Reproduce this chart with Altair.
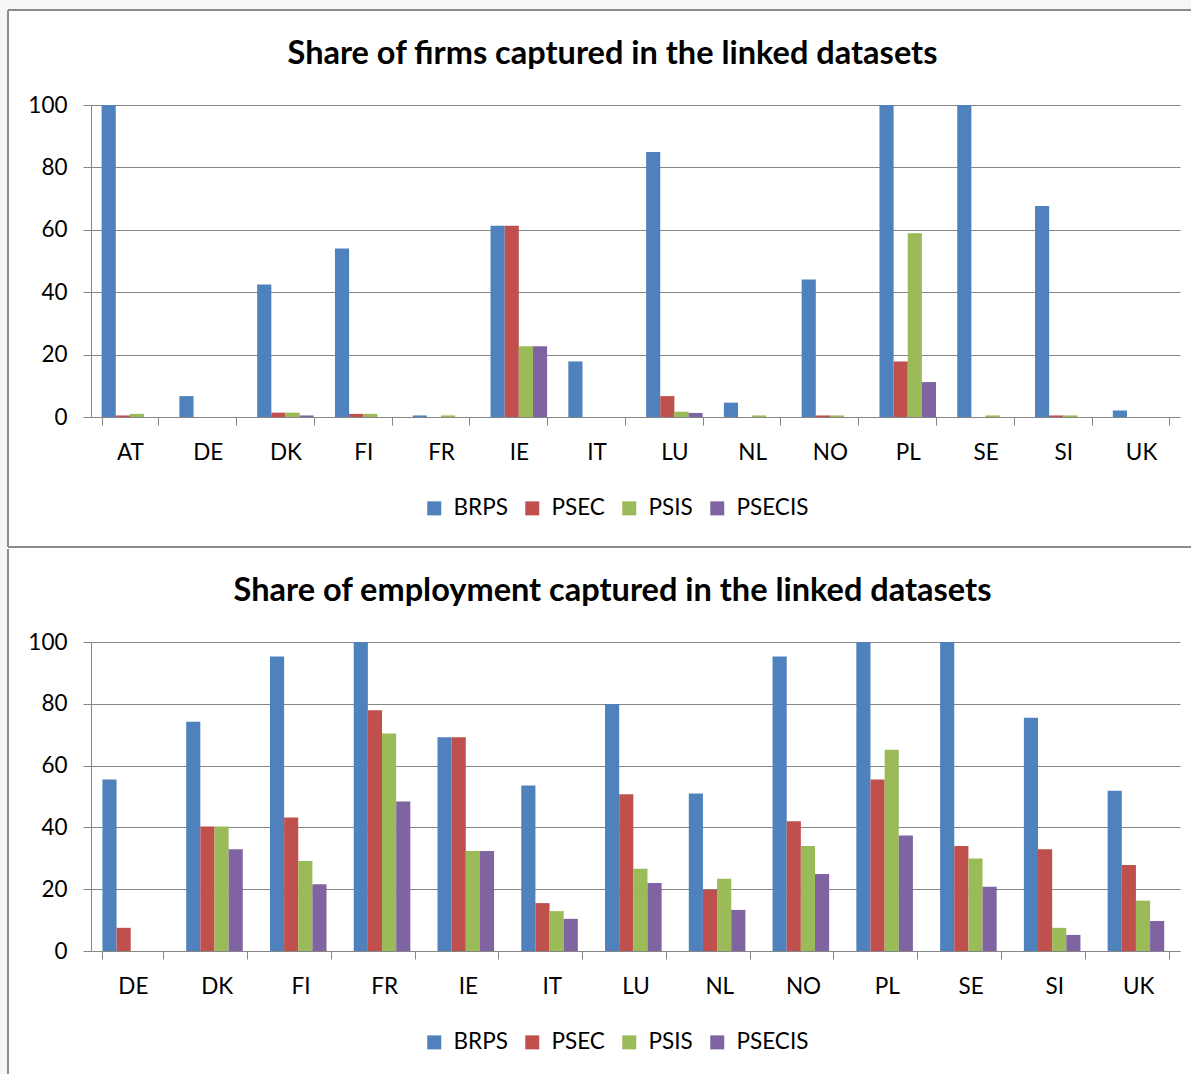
import altair as alt
import pandas as pd

# Series names and colours
series = ["BRPS", "PSEC", "PSIS", "PSECIS"]
colors = ["#4F81BD", "#C0504D", "#9BBB59", "#8064A2"]

# Share of firms (%)
countries_firms = ["AT", "DE", "DK", "FI", "FR", "IE", "IT", "LU", "NL", "NO", "PL", "SE", "SI", "UK"]
firms_brps = [100, 6.7, 42.5, 54.0, 0.5, 61.3, 17.8, 84.9, 4.6, 44.1, 100, 100, 67.6, 2.1]
firms_psec = [0.5, 0, 1.4, 1.0, 0, 61.3, 0, 6.7, 0, 0.5, 17.8, 0, 0.5, 0]
firms_psis = [1.0, 0, 1.4, 1.0, 0.5, 22.7, 0, 1.7, 0.5, 0.5, 58.9, 0.5, 0.5, 0]
firms_psecis = [0, 0, 0.5, 0, 0, 22.7, 0, 1.3, 0, 0, 11.2, 0, 0, 0]

# Share of employment (%)
countries_emp = ["DE", "DK", "FI", "FR", "IE", "IT", "LU", "NL", "NO", "PL", "SE", "SI", "UK"]
emp_brps = [55.5, 74.2, 95.3, 100, 69.2, 53.6, 79.9, 51.0, 95.3, 100, 100, 75.5, 51.9]
emp_psec = [7.5, 40.3, 43.2, 77.9, 69.2, 15.5, 50.7, 19.8, 42.0, 55.5, 34.0, 32.9, 27.8]
emp_psis = [0, 40.3, 29.1, 70.4, 32.4, 12.9, 26.6, 23.4, 34.0, 65.1, 29.9, 7.5, 16.3]
emp_psecis = [0, 32.9, 21.6, 48.4, 32.4, 10.4, 22.0, 13.3, 24.9, 37.4, 20.8, 5.2, 9.7]

y_ticks = [0, 20, 40, 60, 80, 100]

FONT = "Lato"
LABEL_SIZE = 22.5
GRID = "#868686"
FRAME = "#8c8c8c"
OUTSIDE = "#f6f6f6"
W = 1089


def long_table(countries, cols):
    rows = []
    for name, vals in zip(series, cols):
        for c, v in zip(countries, vals):
            rows.append({"country": c, "series": name, "value": v})
    return pd.DataFrame(rows)


def bar_panel(df, countries, h):
    return alt.Chart(df).mark_bar().encode(
        x=alt.X("country:N", sort=countries, title=None,
                scale=alt.Scale(paddingInner=0.2727, paddingOuter=0.1364),
                axis=alt.Axis(labelAngle=0, tickBand="extent", domainColor=GRID,
                              tickColor=GRID, tickSize=8, labelPadding=16,
                              labelFontSize=LABEL_SIZE, labelFont=FONT, labelColor="#000")),
        xOffset=alt.XOffset("series:N", sort=series,
                            scale=alt.Scale(paddingInner=0, paddingOuter=0)),
        y=alt.Y("value:Q", title=None,
                scale=alt.Scale(domain=[0, 100], nice=False),
                axis=alt.Axis(values=y_ticks, gridColor=GRID, domainColor=GRID,
                              tickColor=GRID, tickSize=8, labelPadding=16,
                              labelFontSize=LABEL_SIZE, labelFont=FONT, labelColor="#000")),
        color=alt.Color("series:N", sort=series, title=None,
                        scale=alt.Scale(domain=series, range=colors),
                        legend=alt.Legend(orient="none", direction="horizontal",
                                          legendX=332, legendY=h + 80,
                                          symbolType="square", symbolSize=196,
                                          symbolStrokeWidth=0, symbolOpacity=1,
                                          labelFontSize=LABEL_SIZE, labelFont=FONT,
                                          labelColor="#000", labelOffset=8,
                                          columnPadding=13)),
    ).properties(width=W, height=h)


one = pd.DataFrame({"k": [0]})


def rect(x, x2, y, y2, fill):
    return alt.Chart(one).mark_rect(fill=fill).encode(
        x=alt.value(x), x2=alt.value(x2), y=alt.value(y), y2=alt.value(y2))


def line(x, x2, y, y2):
    return alt.Chart(one).mark_rule(color=FRAME, strokeWidth=2).encode(
        x=alt.value(x), x2=alt.value(x2), y=alt.value(y), y2=alt.value(y2))


def panel_title(text, offset):
    return alt.Title(text, font=FONT, fontSize=32.5, fontWeight="bold", color="#000",
                     anchor="middle", dx=-23, offset=offset)


# Top panel: firms
h1 = 312
firms = long_table(countries_firms, [firms_brps, firms_psec, firms_psis, firms_psecis])
top = alt.layer(
    rect(-91, -84, -105, h1 + 130, OUTSIDE),
    rect(-91, W + 11, -105, -96, OUTSIDE),
    line(-83, -83, -95, h1 + 130),
    line(-83, W + 11, -95, -95),
    line(-83, W + 11, h1 + 130, h1 + 130),
    bar_panel(firms, countries_firms, h1),
).properties(title=panel_title("Share of firms captured in the linked datasets", -70))

# Bottom panel: employment
h2 = 309
emp = long_table(countries_emp, [emp_brps, emp_psec, emp_psis, emp_psecis])
bottom = alt.layer(
    rect(-91, -84, -94, 432, OUTSIDE),
    line(-83, -83, -93, 432),
    bar_panel(emp, countries_emp, h2),
).properties(title=panel_title("Share of employment captured in the linked datasets", -59))

chart = alt.vconcat(top, bottom, spacing=0).resolve_scale(
    color="independent"
).resolve_legend(
    color="independent"
).properties(
    padding=0, background="#ffffff"
).configure_view(stroke=None)

chart.save("out.html", embed_options={"renderer": "svg", "actions": False})
